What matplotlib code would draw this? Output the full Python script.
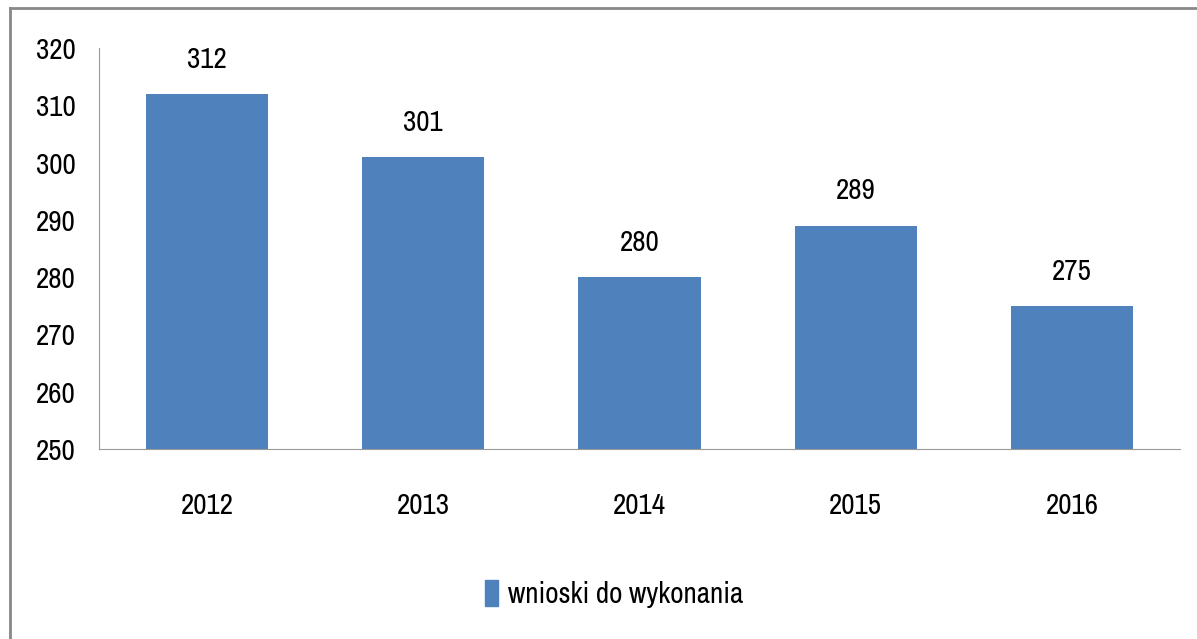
import matplotlib
matplotlib.use('Agg')
import matplotlib.pyplot as plt
from matplotlib import font_manager
from matplotlib.patches import Patch
from matplotlib.lines import Line2D

years = ['2012', '2013', '2014', '2015', '2016']
values = [312, 301, 280, 289, 275]
series_name = 'wnioski do wykonania'
y_ticks = [250, 260, 270, 280, 290, 300, 310, 320]

# look for a narrow font, like Calibri in the scan
names = sorted({f.name for f in font_manager.fontManager.ttflist})
narrow = [n for n in names if 'Narrow' in n or 'Condensed' in n]
plt.rcParams['font.family'] = narrow[:1] + ['DejaVu Sans']
plt.rcParams['font.stretch'] = 'condensed'
plt.rcParams['font.weight'] = 'light'

W, H = 1197, 639
fig = plt.figure(figsize=(W / 100, H / 100), dpi=100)

# grey frame of the scanned page
fig.add_artist(Line2D([10 / W, 10 / W], [0, 1 - 8 / H], color='#888888', lw=2))
fig.add_artist(Line2D([10 / W, 1], [1 - 8 / H, 1 - 8 / H], color='#888888', lw=2))

ax = fig.add_axes([99 / W, (H - 449) / H, 1081 / W, (449 - 48) / H])
x = range(len(years))
ax.bar(x, values, width=0.565, color='#4F81BD', zorder=2)

ax.set_ylim(250, 320)
ax.set_xlim(-0.5, len(years) - 0.5)
ax.set_yticks(y_ticks)
ax.set_xticks(list(x))
ax.set_xticklabels(years)
ax.tick_params(axis='both', length=0, labelsize=21)
ax.tick_params(axis='y', pad=17)
ax.tick_params(axis='x', pad=31)

for side in ['top', 'right']:
    ax.spines[side].set_visible(False)
ax.spines['left'].set_color('#999999')
ax.spines['bottom'].set_color('#999999')

# value labels above bars
for i, v in enumerate(values):
    ax.annotate(str(v), (i, v), xytext=(0, 25), textcoords='offset points',
                ha='center', va='center', fontsize=21)

ax.legend(handles=[Patch(color='#4F81BD', label=series_name)],
          loc='center', bbox_to_anchor=(614 / W, (H - 594) / H),
          bbox_transform=fig.transFigure, frameon=False, fontsize=21,
          handlelength=0.45, handleheight=1.0, handletextpad=0.35)

fig.savefig('out.png', dpi=100)
